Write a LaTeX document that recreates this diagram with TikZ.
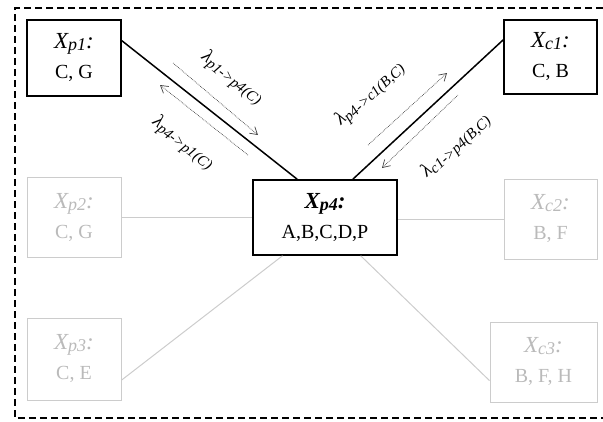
\documentclass[tikz,border=0pt]{standalone}
\usepackage{fontspec}
\setmainfont{Liberation Serif}
\usetikzlibrary{arrows.meta, positioning, calc}
\colorlet{faint}{black!20}
\colorlet{fainttext}{black!27}
\newcommand{\lowtxt}[1]{\raisebox{-2pt}{\fontsize{18}{18}\selectfont #1}}
\newcommand{\boxhead}[1]{{\fontsize{23}{23}\selectfont\itshape X\lowtxt{#1}:}}
\newcommand{\rate}[1]{λ\raisebox{-3pt}{\fontsize{15}{15}\selectfont #1}}

\begin{document}
\begin{tikzpicture}[
x=1pt, y=-1pt,
box/.style={draw, line width=1.5pt, minimum width=94pt, minimum height=76pt, align=center, font=\fontsize{20}{30}\selectfont, inner sep=2pt},
ghost/.style={box, draw=faint, line width=1pt, text=fainttext},
link/.style={line width=1.5pt},
ghostlink/.style={line width=1pt, draw=faint},
flow/.style={densely dotted, line width=0.7pt, black!75, -{Straight Barb[length=2.5mm, width=3mm]}},
flowlbl/.style={font=\fontsize{19}{19}\selectfont\itshape, inner sep=1pt}
]
\useasboundingbox (0,0) rectangle (603,421);
\draw[dash pattern=on 7pt off 4pt, line width=1.4pt] (603,8) -- (15,8) -- (15,418) -- (603,418);

\node[box] (p1) at (74,58) {\boxhead{p1}\\C, G};
\node[box, minimum width=93pt, minimum height=74pt] (c1) at (550.5,57) {\boxhead{c1}\\C, B};
\node[ghost, minimum height=80pt] (p2) at (74,217.5) {\boxhead{p2}\\C, G};
\node[ghost, minimum height=82pt] (p3) at (74,359) {\boxhead{p3}\\C, E};
\node[ghost, minimum width=93pt, minimum height=80pt] (c2) at (550.5,219) {\boxhead{c2}\\B, F};
\node[ghost, minimum width=107pt, minimum height=80pt] (c3) at (543.5,362) {\boxhead{c3}\\B, F, H};
\node[box, minimum width=144pt, minimum height=75pt] (p4) at (325,217.5) {\textbf{\boxhead{p4}}\\A,B,C,D,P};

\draw[link] (p1.20) -- (p4.126);
\draw[link] (c1.160) -- (p4.54);
\draw[ghostlink] (p2.east) -- (p2.east -| p4.west);
\draw[ghostlink] (c2.west) -- (c2.west -| p4.east);
\draw[ghostlink] (p3.-24) -- (p4.222);
\draw[ghostlink] (c3.199) -- (p4.-47);

\coordinate (a1) at (173,63);
\coordinate (a2) at (258,135);
\coordinate (b1) at (248,155);
\coordinate (b2) at (160,85);
\coordinate (c1a) at (368,145);
\coordinate (c1b) at (447,73);
\coordinate (d1) at (458,95);
\coordinate (d2) at (382,168);

\draw[flow] (a1) -- (a2);
\draw[flow] (b1) -- (b2);
\draw[flow] (c1a) -- (c1b);
\draw[flow] (d1) -- (d2);

\node[flowlbl, rotate=-38.3] (l1) at (232,78) {\rate{p1->p4(C)}};
\node[flowlbl, rotate=-38.3] (l2) at (183,143) {\rate{p4->p1(C)}};
\node[flowlbl, rotate=42.8] (l3) at (370,94) {\rate{p4->c1(B,C)}};
\node[flowlbl, rotate=42.8] (l4) at (456,146) {\rate{c1->p4(B,C)}};
\end{tikzpicture}
\end{document}
